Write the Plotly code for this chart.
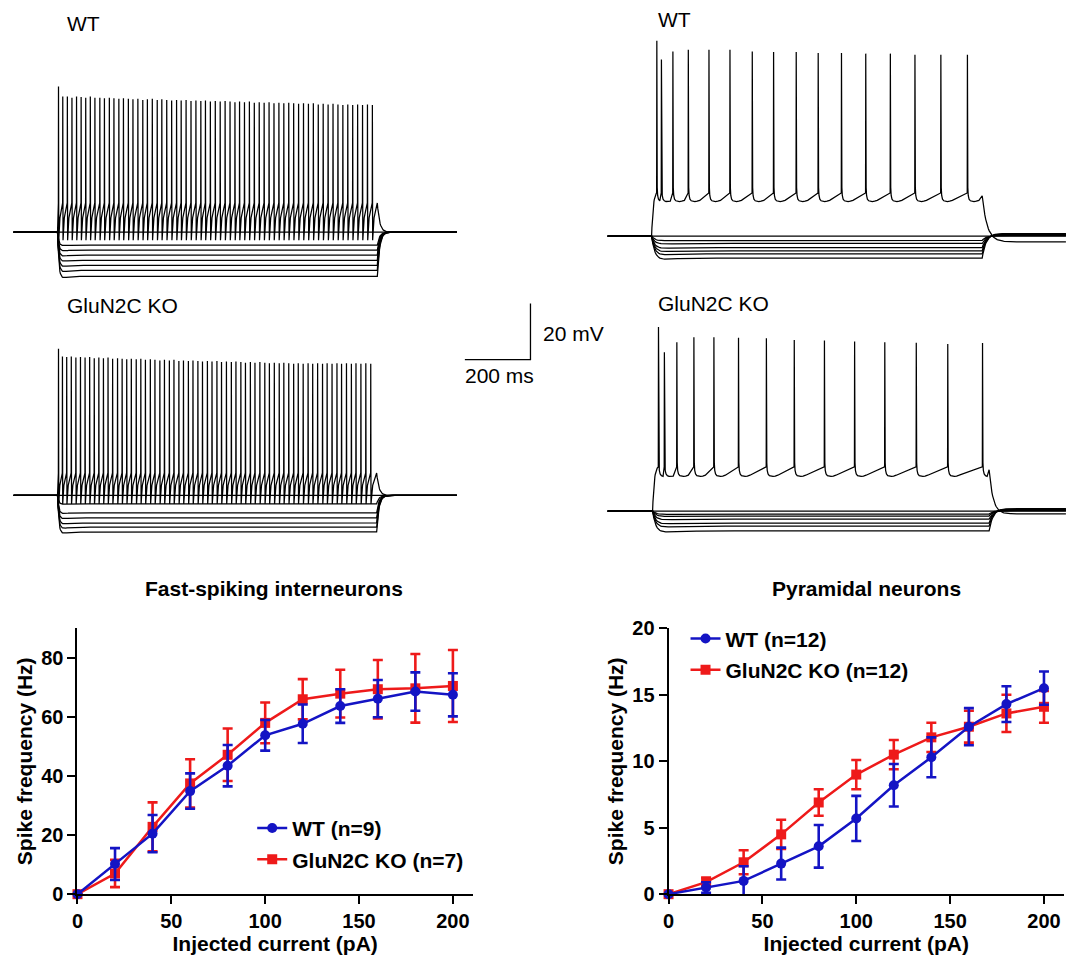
import numpy as np
import plotly.graph_objects as go

W, H = 1077, 955

# ---------------- F-I curves ----------------
CURRENT_PA = [0, 20, 40, 60, 80, 100, 120, 140, 160, 180, 200]
X_TICKS = [0, 50, 100, 150, 200]

FS_WT_HZ = [0, 10.2, 20.5, 34.9, 43.5, 53.8, 57.7, 63.7, 66.2, 68.6, 67.5]
FS_WT_SEM = [0, 5.4, 6.3, 6.0, 7.0, 5.2, 6.5, 5.7, 6.3, 6.5, 7.3]
FS_KO_HZ = [0, 7.0, 22.8, 37.5, 47.2, 58.0, 66.0, 67.9, 69.4, 69.7, 70.5]
FS_KO_SEM = [0, 4.6, 8.3, 8.2, 8.9, 6.9, 6.8, 8.1, 9.9, 11.6, 12.2]
FS_Y_TICKS = [0, 20, 40, 60, 80]

PYR_WT_HZ = [0, 0.5, 1.0, 2.3, 3.6, 5.7, 8.2, 10.3, 12.6, 14.3, 15.5]
PYR_WT_SEM = [0, 0.4, 1.1, 1.2, 1.6, 1.7, 1.6, 1.5, 1.4, 1.35, 1.25]
PYR_KO_HZ = [0, 0.9, 2.4, 4.5, 6.9, 9.0, 10.5, 11.8, 12.6, 13.6, 14.1]
PYR_KO_SEM = [0, 0.35, 0.9, 1.1, 1.0, 1.1, 1.1, 1.1, 1.2, 1.4, 1.2]
PYR_Y_TICKS = [0, 5, 10, 15, 20]

# ---------------- example sweeps (ms from step onset, mV from rest) ----------------
FS_WT_SPIKE_MS = [3, 16, 30, 44, 58, 72, 86, 100, 114, 129, 143, 158, 172, 187, 201, 216, 230, 245,
                  260, 274, 289, 304, 318, 333, 348, 363, 377, 392, 407, 422, 437, 451, 466, 481,
                  496, 511, 526, 541, 555, 570, 585, 600, 615, 630, 645, 660, 675, 690, 705, 720,
                  735, 750, 765, 780, 795, 810, 825, 840, 855, 870, 885, 900, 915, 930, 945, 960]
FS_WT_PEAK_MV = [51.9, 48.3, 48.3, 47.9, 48.3, 48.1, 47.9, 48.3, 47.9, 47.9,
                 47.7, 47.9, 47.7, 47.5, 47.7, 47.5, 47.3, 47.5, 47.1, 47.3,
                 47.5, 47.1, 47.3, 47.1, 46.9, 47.1, 46.9, 47.1, 46.7, 46.9,
                 46.7, 46.9, 46.5, 46.7, 46.5, 46.7, 46.5, 46.3, 46.5, 46.3,
                 46.5, 46.1, 46.3, 46.1, 46.3, 45.9, 46.1, 45.9, 46.1, 45.9,
                 45.7, 45.9, 45.7, 45.9, 45.5, 45.7, 45.5, 45.7, 45.5, 45.3,
                 45.5, 45.3, 45.5, 45.3, 45.5, 45.3]
FS_WT_HYPER_MV = [-4.6, -6.4, -8.2, -10.0, -11.8, -13.6, -15.7]
FS_WT_STEP_MS = 975

FS_KO_SPIKE_MS = [3, 15, 28, 42, 56, 70, 84, 98, 112, 126, 140, 154, 168, 183, 197, 211, 225, 240,
                  254, 268, 283, 297, 312, 326, 341, 355, 370, 384, 399, 413, 428, 442, 457, 471,
                  486, 500, 515, 530, 544, 559, 573, 588, 602, 617, 632, 646, 661, 676, 690, 705,
                  720, 734, 749, 764, 778, 793, 808, 822, 837, 852, 866, 881, 896, 910, 925, 940, 955]
FS_KO_PEAK_MV = [52.2, 49.5, 49.3, 49.5, 49.1, 49.3, 49.1, 49.3, 48.9, 49.1,
                 48.9, 49.1, 48.7, 48.9, 48.7, 48.5, 48.7, 48.5, 48.7, 48.3,
                 48.5, 48.3, 48.1, 48.3, 48.1, 48.3, 47.9, 48.1, 47.9, 48.1,
                 47.9, 47.7, 47.9, 47.7, 47.9, 47.5, 47.7, 47.5, 47.7, 47.5,
                 47.3, 47.5, 47.3, 47.5, 47.3, 47.1, 47.3, 47.1, 47.3, 47.1,
                 46.9, 47.1, 46.9, 47.1, 46.9, 47.1, 46.9, 47.1, 46.9, 47.1,
                 46.9, 47.1, 46.9, 47.1, 46.9, 47.1, 46.9]
FS_KO_HYPER_MV = [-3.0, -6.2, -8.0, -9.8, -11.3, -13.0]
FS_KO_STEP_MS = 973

PYR_WT_SPIKE_MS = [16, 30, 65, 112, 175, 239, 307, 372, 441, 508, 579, 653, 728, 803, 882, 963]
PYR_WT_PEAK_MV = [69.6, 62.9, 65.8, 66.4, 66.4, 66.4, 65.8, 65.6, 65.6, 65.2, 65.2, 65.0, 65.0,
                  64.6, 64.6, 64.6]
PYR_WT_HYPER_MV = [-1.5, -2.6, -4.1, -5.2, -6.3, -7.8]
PYR_WT_STEP_MS = 1008

PYR_KO_SPIKE_MS = [18, 36, 74, 126, 187, 262, 347, 432, 524, 616, 708, 804, 900, 1006]
PYR_KO_PEAK_MV = [65.5, 56.5, 60.1, 61.9, 61.9, 61.7, 61.5, 60.9, 60.7, 60.4, 60.1, 59.9, 59.5, 59.8]
PYR_KO_HYPER_MV = [-1.1, -1.8, -2.9, -4.3, -5.4, -7.1]
PYR_KO_STEP_MS = 1026

SCALE_MS = 200
SCALE_MV = 20

# ---------------- geometry helpers ----------------
# Positions below are given in picture pixels; the photographed page is squeezed
# slightly in height, so picture pixels are converted to page pixels first.
PIC_SY, PIC_OY = 0.974, 11.5
PIC_SX, PIC_OX = 0.996, 5.4
PX_PER_MS = 65.7 / 200     # picture pixels per ms
PX_PER_MV = 56 / 20        # picture pixels per mV


def px(x):
    return ((x - PIC_OX) / PIC_SX) / W


def py(y):
    return 1 - ((y - PIC_OY) / PIC_SY) / H


def dom_x(x0, x1):
    return [px(x0), px(x1)]


def dom_y(y0, y1):
    return [py(y1), py(y0)]


def trace_ranges(box, origin):
    bx0, bx1, by0, by1 = box
    ox, oy = origin
    return ([(bx0 - ox) / PX_PER_MS, (bx1 - ox) / PX_PER_MS],
            [(oy - by1) / PX_PER_MV, (oy - by0) / PX_PER_MV])


# ---------------- sweep builders ----------------
def flat_sweep(t_pre, t_post):
    return [t_pre, t_post], [0.0, 0.0]


def hyper_sweep(level, t_pre, t_off, t_post, tau_on, tau_off, sag, rebound):
    T = [t_pre, 0.0]
    V = [0.0, 0.0]
    tt = np.linspace(0, 25 * tau_on, 70)
    v = level * (1 - np.exp(-tt / tau_on)) + sag * level * (np.exp(-tt / (5 * tau_on)) - np.exp(-tt / tau_on))
    T += list(tt)
    V += list(v)
    T.append(t_off)
    V.append(level)
    tt = np.linspace(0, 8 * tau_off, 40)
    T += list(t_off + tt)
    V += list(rebound + (level - rebound) * np.exp(-tt / tau_off))
    T.append(t_post)
    V.append(rebound)
    return T, V


def fs_spiking(spk_t, spk_v, thr, trough, t_pre, t_off, t_post, tau_off):
    T = [t_pre, 0.0, spk_t[0] - 0.4]
    V = [0.0, 0.0, thr]
    n = len(spk_t)
    for i in range(n):
        ts, pk = spk_t[i], spk_v[i]
        T += [ts, ts + 0.8]
        V += [pk, trough]
        nxt = spk_t[i + 1] if i + 1 < n else t_off + 0.4
        span = nxt - 0.4 - (ts + 0.8)
        T += [ts + 0.8 + 0.3 * span, nxt - 0.4]
        V += [trough + 0.6 * (thr - trough), thr]
    tt = np.linspace(0, 7 * tau_off, 35)
    T += list(t_off + tt)
    V += list(thr * np.exp(-tt / tau_off))
    T.append(t_post)
    V.append(0.0)
    return T, V


AHP_SHAPE = [(1.2, 5.0), (2.5, 2.2), (5.0, 0.9), (9.0, 0.3), (14.0, 0.05), (20.0, 0.0), (27.0, 0.15),
             (35.0, 0.45)]


def pyr_spiking(spk_t, spk_v, pre, trough, t_pre, t_off, t_post, tau_on, tau_off, v_after):
    T = [t_pre, 0.0]
    V = [0.0, 0.0]
    t1 = spk_t[0] - 0.6
    tt = np.linspace(0, t1, 16)
    vinf = pre / (1 - np.exp(-t1 / tau_on))
    T += list(tt)
    V += list(vinf * (1 - np.exp(-tt / tau_on)))
    n = len(spk_t)
    for i in range(n):
        ts, pk = spk_t[i], spk_v[i]
        T.append(ts)
        V.append(pk)
        nxt = spk_t[i + 1] if i + 1 < n else None
        limit = (nxt - 1.0) if nxt is not None else t_off
        for dt, dv in AHP_SHAPE:
            if ts + dt < limit - 2:
                T.append(ts + dt)
                V.append(trough + dv)
        if nxt is not None:
            T.append(nxt - 0.6)
            V.append(pre)
    T.append(t_off)
    V.append(pre - 1)
    tt = np.linspace(0, 7 * tau_off, 40)
    T += list(t_off + tt)
    V += list(v_after + (pre - 1 - v_after) * np.exp(-tt / tau_off))
    T.append(t_post)
    V.append(v_after)
    return T, V


def join(sweeps):
    X, Y = [], []
    for T, V in sweeps:
        X += [float(t) for t in T] + [None]
        Y += [float(v) for v in V] + [None]
    return X, Y


# ---------------- panel definitions (picture pixel boxes) ----------------
BOX_A, ORG_A = (10, 465, 70, 300), (57, 232)
BOX_B, ORG_B = (10, 465, 330, 545), (57, 494.5)
BOX_C, ORG_C = (600, 1069, 30, 290), (652, 236)
BOX_D, ORG_D = (600, 1069, 305, 545), (653, 510)
BOX_S, ORG_S = (455, 540, 296, 366), (530.7, 359)

fig = go.Figure()
TRACE_LINE = dict(color="black", width=1.25)

# panel A: FS WT
tA0, tA1 = (13 - 57) / PX_PER_MS, (457 - 57) / PX_PER_MS
sw = [flat_sweep(tA0, tA1)]
sw += [hyper_sweep(l, tA0, FS_WT_STEP_MS, tA1, 4, 7, 0.1, 0.0) for l in FS_WT_HYPER_MV]
sw.append(fs_spiking(FS_WT_SPIKE_MS, FS_WT_PEAK_MV, 10.4, -2.9, tA0, FS_WT_STEP_MS, tA1, 7))
xA, yA = join(sw)
fig.add_trace(go.Scatter(x=xA, y=yA, mode="lines", line=TRACE_LINE, showlegend=False,
                         hoverinfo="skip", xaxis="x3", yaxis="y3"))

# panel B: FS KO
sw = [flat_sweep(tA0, tA1)]
sw += [hyper_sweep(l, tA0, FS_KO_STEP_MS, tA1, 4, 7, 0.1, 0.0) for l in FS_KO_HYPER_MV]
sw.append(fs_spiking(FS_KO_SPIKE_MS, FS_KO_PEAK_MV, 8.0, -3.0, tA0, FS_KO_STEP_MS, tA1, 7))
xB, yB = join(sw)
fig.add_trace(go.Scatter(x=xB, y=yB, mode="lines", line=TRACE_LINE, showlegend=False,
                         hoverinfo="skip", xaxis="x4", yaxis="y4"))

# panel C: Pyr WT
tC0, tC1 = (608 - 652) / PX_PER_MS, (1067 - 652) / PX_PER_MS
sw = [flat_sweep(tC0, tC1)]
sw += [hyper_sweep(l, tC0, PYR_WT_STEP_MS, tC1, 10, 12, 0.15, -0.12 * l) for l in PYR_WT_HYPER_MV]
sw.append(pyr_spiking(PYR_WT_SPIKE_MS, PYR_WT_PEAK_MV, 15.4, 12.3, tC0, PYR_WT_STEP_MS, tC1, 5, 15, -2.0))
xC, yC = join(sw)
fig.add_trace(go.Scatter(x=xC, y=yC, mode="lines", line=TRACE_LINE, showlegend=False,
                         hoverinfo="skip", xaxis="x5", yaxis="y5"))

# panel D: Pyr KO
tD0, tD1 = (608 - 653) / PX_PER_MS, (1067 - 653) / PX_PER_MS
sw = [flat_sweep(tD0, tD1)]
sw += [hyper_sweep(l, tD0, PYR_KO_STEP_MS, tD1, 10, 12, 0.15, -0.12 * l) for l in PYR_KO_HYPER_MV]
sw.append(pyr_spiking(PYR_KO_SPIKE_MS, PYR_KO_PEAK_MV, 15.7, 12.3, tD0, PYR_KO_STEP_MS, tD1, 5, 12, -1.0))
xD, yD = join(sw)
fig.add_trace(go.Scatter(x=xD, y=yD, mode="lines", line=TRACE_LINE, showlegend=False,
                         hoverinfo="skip", xaxis="x6", yaxis="y6"))

# scale bar
fig.add_trace(go.Scatter(x=[-SCALE_MS, 0, 0], y=[0, 0, SCALE_MV], mode="lines",
                         line=dict(color="black", width=1.3), showlegend=False,
                         hoverinfo="skip", xaxis="x7", yaxis="y7"))

# ---------------- F-I curves ----------------
BLUE = "#1414C4"
RED = "#EE1A1A"


def fi_trace(y, err, name, color, symbol, xa, ya, legend, rank):
    return go.Scatter(x=CURRENT_PA, y=y, name=name, mode="lines+markers",
                      line=dict(color=color, width=2.5),
                      marker=dict(color=color, size=10, symbol=symbol),
                      error_y=dict(type="data", array=err, color=color, thickness=2.6, width=5),
                      xaxis=xa, yaxis=ya, legend=legend, legendrank=rank,
                      legendgroup=name, cliponaxis=False)


fig.add_trace(fi_trace(FS_KO_HZ, FS_KO_SEM, "GluN2C KO (n=7)", RED, "square", "x", "y", "legend", 2))
fig.add_trace(fi_trace(FS_WT_HZ, FS_WT_SEM, "WT (n=9)", BLUE, "circle", "x", "y", "legend", 1))
fig.add_trace(fi_trace(PYR_KO_HZ, PYR_KO_SEM, "GluN2C KO (n=12)", RED, "square", "x2", "y2", "legend2", 2))
fig.add_trace(fi_trace(PYR_WT_HZ, PYR_WT_SEM, "WT (n=12)", BLUE, "circle", "x2", "y2", "legend2", 1))

BOLD = dict(family="Arial, Liberation Sans, sans-serif", size=21, color="black", weight="bold")
TICKF = dict(family="Arial, Liberation Sans, sans-serif", size=20, color="black", weight="bold")
REG = dict(family="Arial, Liberation Sans, sans-serif", size=21, color="black")

X_RANGE = [0, (473 - 77) / (376 / 200)]


def fi_xaxis(x0, x1, anchor):
    return dict(domain=dom_x(x0, x1), range=X_RANGE, anchor=anchor, showline=True, linecolor="black",
                linewidth=2, ticks="outside", ticklen=8, tickwidth=2, tickcolor="black",
                tickvals=X_TICKS, tickfont=TICKF, showgrid=False, zeroline=False,
                ticklabelstandoff=0,
                title=dict(text="Injected current (pA)", font=BOLD, standoff=3))


def fi_yaxis(ymax, tickvals, anchor):
    return dict(domain=dom_y(627, 892), range=[0, ymax], anchor=anchor, showline=True, linecolor="black",
                linewidth=2, ticks="outside", ticklen=8, tickwidth=2, tickcolor="black",
                tickvals=tickvals, tickfont=TICKF, showgrid=False, zeroline=False,
                title=dict(text="Spike frequency (Hz)", font=BOLD, standoff=3))


def hidden(dom, rng, anchor):
    return dict(domain=dom, range=rng, anchor=anchor, visible=False, showgrid=False, zeroline=False,
                fixedrange=True)


layout = dict(
    width=W, height=H, margin=dict(l=0, r=0, t=0, b=0),
    paper_bgcolor="white", plot_bgcolor="rgba(0,0,0,0)",
    xaxis=fi_xaxis(77, 473, "y"), yaxis=fi_yaxis(90, FS_Y_TICKS, "x"),
    xaxis2=fi_xaxis(669, 1065, "y2"), yaxis2=fi_yaxis(20, PYR_Y_TICKS, "x2"),
    legend=dict(x=px(252), y=py(806), xanchor="left", yanchor="top", font=BOLD,
                bgcolor="rgba(0,0,0,0)", tracegroupgap=1),
    legend2=dict(x=px(686), y=py(617), xanchor="left", yanchor="top", font=BOLD,
                 bgcolor="rgba(0,0,0,0)", tracegroupgap=1),
)

for idx, (box, org) in zip([3, 4, 5, 6, 7], [(BOX_A, ORG_A), (BOX_B, ORG_B), (BOX_C, ORG_C),
                                              (BOX_D, ORG_D), (BOX_S, ORG_S)]):
    xr, yr = trace_ranges(box, org)
    layout[f"xaxis{idx}"] = hidden(dom_x(box[0], box[1]), xr, f"y{idx}")
    layout[f"yaxis{idx}"] = hidden(dom_y(box[2], box[3]), yr, f"x{idx}")

fig.update_layout(**layout)


def note(text, xpic, ypic, font, xanchor="left"):
    fig.add_annotation(text=text, x=px(xpic), y=py(ypic), xref="paper", yref="paper",
                       xanchor=xanchor, yanchor="middle", showarrow=False, font=font)


note("Fast-spiking interneurons", 274, 587, BOLD, "center")
note("Pyramidal neurons", 867, 587, BOLD, "center")
note("WT", 64, 24, REG)
note("GluN2C KO", 64, 305, REG)
note("WT", 656, 20, REG)
note("GluN2C KO", 656, 303, REG)
note("20 mV", 541, 333, REG)
note(f"{SCALE_MS} ms", 463, 375, REG)

fig.write_html("out.html", config={"displayModeBar": False},
               post_script="document.body.style.margin='0';")
